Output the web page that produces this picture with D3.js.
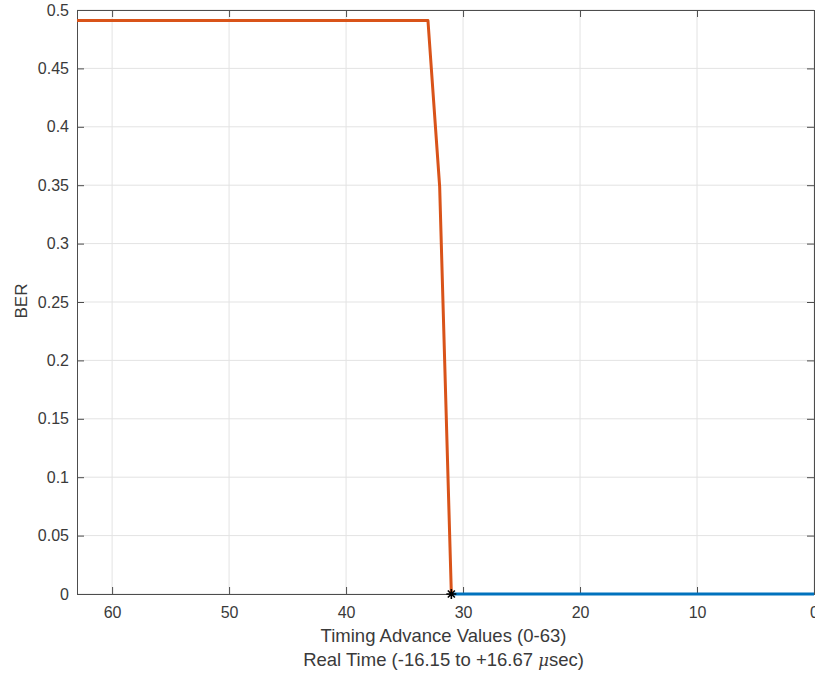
<!DOCTYPE html>
<html><head><meta charset="utf-8">
<script src="https://cdn.jsdelivr.net/npm/d3@7/dist/d3.min.js"></script>
<style>body{margin:0;background:#fff;} svg{display:block;}</style>
</head><body><svg id="c" width="815" height="675"></svg>
<script>
const orangeTA = [63,62,61,60,59,58,57,56,55,54,53,52,51,50,49,48,47,46,45,44,43,42,41,40,39,38,37,36,35,34,33,32,31];
const orangeBER = [0.491,0.491,0.491,0.491,0.491,0.491,0.491,0.491,0.491,0.491,0.491,0.491,0.491,0.491,0.491,0.491,0.491,0.491,0.491,0.491,0.491,0.491,0.491,0.491,0.491,0.491,0.491,0.491,0.491,0.491,0.491,0.349,0];
const blueTA = [31,30,29,28,27,26,25,24,23,22,21,20,19,18,17,16,15,14,13,12,11,10,9,8,7,6,5,4,3,2,1,0];
const blueBER = [0,0,0,0,0,0,0,0,0,0,0,0,0,0,0,0,0,0,0,0,0,0,0,0,0,0,0,0,0,0,0,0];
const markerTA = [31];
const markerBER = [0];
const xTicks = [60,50,40,30,20,10,0];
const yTicks = [0,0.05,0.1,0.15,0.2,0.25,0.3,0.35,0.4,0.45,0.5];
const xLabel1 = "Timing Advance Values (0-63)";
const yLabel = "BER";

const L = 77, R = 814, T = 10, B = 594;
const svg = d3.select("#c");
const font = "'Liberation Sans', Arial, Helvetica, sans-serif";
const x = d3.scaleLinear().domain([63,0]).range([L,R]);
const y = d3.scaleLinear().domain([0,0.5]).range([B,T]);
const axisCol = "#4d4d4d", textCol = "#3a3a3a";

// grid
const g = svg.append("g");
g.selectAll(".gx").data(xTicks).enter().append("line")
  .attr("x1", d=>x(d)).attr("x2", d=>x(d)).attr("y1", T).attr("y2", B)
  .attr("stroke", "#e3e3e3").attr("stroke-width", 1);
g.selectAll(".gy").data(yTicks).enter().append("line")
  .attr("x1", L).attr("x2", R).attr("y1", d=>y(d)).attr("y2", d=>y(d))
  .attr("stroke", "#e3e3e3").attr("stroke-width", 1);

// axes
const tk = 7;
const xb = svg.append("g").attr("transform",`translate(0,${B})`)
  .call(d3.axisBottom(x).tickValues(xTicks).tickSize(-tk).tickPadding(13).tickFormat(d3.format("d")));
const xt = svg.append("g").attr("transform",`translate(0,${T})`)
  .call(d3.axisTop(x).tickValues(xTicks).tickSize(-tk).tickFormat(""));
const yl = svg.append("g").attr("transform",`translate(${L},0)`)
  .call(d3.axisLeft(y).tickValues(yTicks).tickSize(-tk).tickPadding(8).tickFormat(d=>d3.format("")(d)));
const yr = svg.append("g").attr("transform",`translate(${R},0)`)
  .call(d3.axisRight(y).tickValues(yTicks).tickSize(-tk).tickFormat(""));
[xb,xt,yl,yr].forEach(a=>{
  a.select(".domain").attr("stroke", axisCol).attr("stroke-width",1);
  a.selectAll(".tick line").attr("stroke", axisCol);
  a.selectAll("text").attr("fill", textCol).style("font-family", font).style("font-size","16px");
});

// data lines
const line = d3.line().x(d=>x(d[0])).y(d=>y(d[1]));
const dg = svg.append("g");
dg.append("path").datum(blueTA.map((t,i)=>[t,blueBER[i]]))
  .attr("d", line).attr("fill","none").attr("stroke","#0072BD").attr("stroke-width",3);
dg.append("path").datum(orangeTA.map((t,i)=>[t,orangeBER[i]]))
  .attr("d", line).attr("fill","none").attr("stroke","#D95319").attr("stroke-width",3).attr("stroke-linejoin","round");
// star marker
const star = d3.symbol().type({draw(ctx,size){const r=Math.sqrt(size)/2;for(let k=0;k<4;k++){const a=k*Math.PI/4;ctx.moveTo(-r*Math.cos(a),-r*Math.sin(a));ctx.lineTo(r*Math.cos(a),r*Math.sin(a));}}}).size(100);
dg.selectAll(".m").data(markerTA.map((t,i)=>[t,markerBER[i]])).enter().append("path")
  .attr("transform", d=>`translate(${x(d[0])},${y(d[1])})`)
  .attr("d", star).attr("stroke","#000").attr("stroke-width",1.6).attr("fill","none");

// labels
svg.append("text").attr("x", (L+R)/2 - 2).attr("y", 642).attr("text-anchor","middle")
  .attr("fill", textCol).style("font-family", font).style("font-size","18.5px").text(xLabel1);
const l2 = svg.append("text").attr("x", (L+R)/2 - 2).attr("y", 666).attr("text-anchor","middle")
  .attr("fill", textCol).style("font-family", font).style("font-size","18.5px");
l2.append("tspan").text("Real Time (-16.15 to +16.67 ");
l2.append("tspan").style("font-style","italic").style("font-family","'DejaVu Serif', serif").style("font-size","16.5px").text("\u03BC");
l2.append("tspan").text("sec)");
svg.append("text").attr("transform",`translate(27,${(T+B)/2 - 1}) rotate(-90)`).attr("text-anchor","middle")
  .attr("fill", textCol).style("font-family", font).style("font-size","17px").text(yLabel);
</script></body></html>
